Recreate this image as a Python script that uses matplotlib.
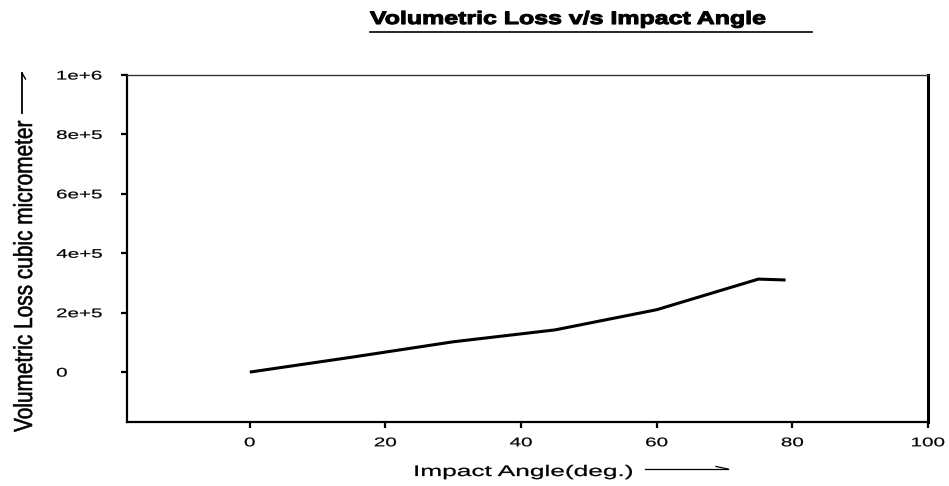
#!/usr/bin/env python3
import matplotlib

matplotlib.use("Agg")
import matplotlib.pyplot as plt
from matplotlib.lines import Line2D
from matplotlib.patheffects import AbstractPathEffect
from matplotlib.transforms import Affine2D


# volumetric loss measured against impact angle
angles = [0, 15, 30, 45, 60, 75, 79]
loss = [0, 5.0e4, 1.02e5, 1.42e5, 2.10e5, 3.13e5, 3.10e5]

x_ticks = [0, 20, 40, 60, 80, 100]
y_ticks = [0, 2e5, 4e5, 6e5, 8e5, 1e6]
y_tick_labels = ["0", "2e+5", "4e+5", "6e+5", "8e+5", "1e+6"]

W, H = 949, 486
FONT = "Liberation Sans"


class Stretch(AbstractPathEffect):
    """Scale glyphs along (sx) and across (sy) the baseline, optionally thickened."""

    def __init__(self, sx=1.0, sy=1.0, anchor=0.0, stroke=0.0):
        super().__init__()
        self.sx, self.sy, self.anchor, self.stroke = sx, sy, anchor, stroke

    def draw_path(self, renderer, gc, tpath, affine, rgbFace=None):
        ext = tpath.get_extents()
        x0 = ext.x0 + self.anchor * ext.width
        t = Affine2D().translate(-x0, 0).scale(self.sx, self.sy).translate(x0, 0) + affine
        if self.stroke > 0:
            gc0 = renderer.new_gc()
            gc0.copy_properties(gc)
            gc0.set_linewidth(self.stroke)
            gc0.set_foreground(rgbFace)
            gc0.set_joinstyle("round")
            renderer.draw_path(gc0, tpath, t, rgbFace)
            gc0.restore()
        else:
            renderer.draw_path(gc, tpath, t, rgbFace)


def px(x, y):
    return x / W, 1 - y / H


def main():
    fig = plt.figure(figsize=(W / 100, H / 100), dpi=100)
    ax = fig.add_axes([127 / W, 1 - 422 / H, (928 - 127) / W, (422 - 75) / H])

    ax.plot(angles, loss, color="black", lw=2.2, solid_capstyle="butt")

    ax.set_xlim(-18.1, 100)
    ax.set_ylim(-1.68e5, 1e6)
    ax.set_xticks(x_ticks)
    ax.set_yticks(y_ticks)
    ax.set_yticklabels(y_tick_labels)
    ax.tick_params(axis="both", direction="out", length=4, width=1.6,
                   labelsize=9, color="black")
    ax.tick_params(axis="x", pad=7)
    # y labels are left aligned at a common column
    ax.tick_params(axis="y", pad=(127 - 4 - 58) * 0.72)
    for lbl in ax.get_xticklabels():
        lbl.set_family(FONT)
        lbl.set_path_effects([Stretch(1.65, 1.0, anchor=0.5, stroke=0.15)])
    for lbl in ax.get_yticklabels():
        lbl.set_family(FONT)
        lbl.set_horizontalalignment("left")
        lbl.set_path_effects([Stretch(1.65, 1.0, anchor=0.0, stroke=0.15)])

    for side in ("left", "bottom", "right"):
        ax.spines[side].set_linewidth(1.6)
    ax.spines["right"].set_linewidth(2.2)
    ax.spines["top"].set_linewidth(1.0)
    ax.spines["top"].set_color("#333333")

    # title with underline
    fig.text(*px(370, 24), "Volumetric Loss v/s Impact Angle",
             ha="left", va="baseline", fontsize=13, fontweight="bold",
             family=FONT, path_effects=[Stretch(1.38, stroke=0.8)])
    fig.add_artist(Line2D(*zip(px(370, 32.5), px(812, 32.5)),
                          color="black", lw=1.2))

    # x label followed by a pointer line
    fig.text(*px(414, 476), "Impact Angle(deg.)", ha="left", va="baseline",
             fontsize=11, family=FONT, path_effects=[Stretch(1.72, stroke=0.2)])
    fig.add_artist(Line2D(*zip(px(645, 469), px(728, 469)), color="black", lw=0.9))
    fig.add_artist(Line2D(*zip(px(716, 466.5), px(728, 469)), color="black", lw=0.9))

    # y label followed by a pointer line
    fig.text(*px(32, 432), "Volumetric Loss cubic micrometer",
             rotation=90, rotation_mode="anchor", ha="left", va="baseline",
             fontsize=15, family=FONT, path_effects=[Stretch(1.0, 1.25, stroke=0.4)])
    fig.add_artist(Line2D(*zip(px(22, 113), px(22, 73)), color="black", lw=1.3))
    fig.add_artist(Line2D(*zip(px(22, 73), px(25.5, 79)), color="black", lw=1.0))

    fig.savefig("out.png", dpi=100, facecolor="white")
    plt.close(fig)


if __name__ == "__main__":
    main()
